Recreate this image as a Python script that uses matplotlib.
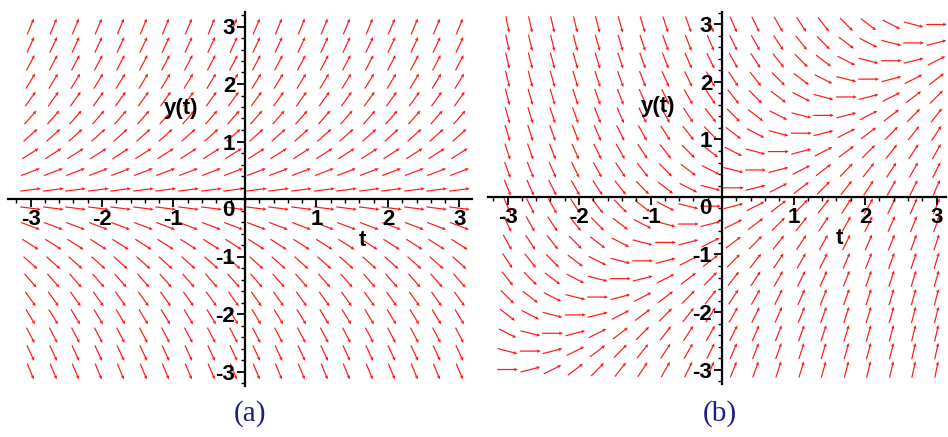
import numpy as np
import matplotlib.pyplot as plt
from matplotlib.ticker import MultipleLocator, FixedLocator

plt.rcParams['font.family'] = ['Liberation Sans', 'DejaVu Sans']
plt.rcParams['axes.unicode_minus'] = False

# grid of the direction field (20 x 20 points on -3..3)
T_GRID = [-3.0, -2.68, -2.37, -2.05, -1.74, -1.42, -1.11, -0.79, -0.47, -0.16,
          0.16, 0.47, 0.79, 1.11, 1.42, 1.74, 2.05, 2.37, 2.68, 3.0]
Y_GRID = [-3.0, -2.68, -2.37, -2.05, -1.74, -1.42, -1.11, -0.79, -0.47, -0.16,
          0.16, 0.47, 0.79, 1.11, 1.42, 1.74, 2.05, 2.37, 2.68, 3.0]
TICKS = [-3, -2, -1, 1, 2, 3]
PANEL_LABELS = ["(a)", "(b)"]


def slope_a(t, y):
  return y


def slope_b(t, y):
  return t - y


W, H = 948, 437
SX, SY = 71.5, 57.5          # pixels per unit
ARROW_LEN = 0.29


def make_axes(fig, ox, oy, x0, x1, y0, y1):
  ax = fig.add_axes([x0 / W, (H - y1) / H, (x1 - x0) / W, (y1 - y0) / H])
  ax.set_xlim((x0 - ox) / SX, (x1 - ox) / SX)
  ax.set_ylim((oy - y1) / SY, (oy - y0) / SY)
  return ax


def draw_field(ax, slope):
  T, Y = np.meshgrid(T_GRID, Y_GRID)
  theta = np.arctan(slope(T, Y))
  U = ARROW_LEN * np.cos(theta)
  V = ARROW_LEN * np.sin(theta)
  ax.quiver(T, Y, U, V, angles='xy', scale_units='xy', scale=1,
            pivot='middle', color='#ff1a1a', units='dots', width=1.2,
            headwidth=3, headlength=3.2, headaxislength=2.8, zorder=1)

  for side in ['top', 'right']:
    ax.spines[side].set_visible(False)
  for side in ['left', 'bottom']:
    ax.spines[side].set_position(('data', 0))
    ax.spines[side].set_linewidth(1.6)
    ax.spines[side].set_zorder(3)
  ax.xaxis.set_major_locator(FixedLocator(TICKS))
  ax.yaxis.set_major_locator(FixedLocator(TICKS))
  ax.xaxis.set_minor_locator(MultipleLocator(0.2))
  ax.yaxis.set_minor_locator(MultipleLocator(0.2))
  ax.tick_params(which='major', direction='out', length=6, width=1.3, pad=1,
                 labelsize=16)
  ax.tick_params(which='minor', direction='out', length=3, width=1)
  for lab in ax.get_xticklabels() + ax.get_yticklabels():
    lab.set_fontweight('bold')
  ax.text(-0.24, -0.2, "0", fontsize=16, fontweight='bold',
          ha='center', va='center')
  ax.text(-0.9, 1.58, "y(t)", fontsize=16, fontweight='bold',
          ha='center', va='center')
  ax.text(1.64, -0.72, "t", fontsize=16, fontweight='bold',
          ha='center', va='center')


fig = plt.figure(figsize=(W / 100, H / 100), dpi=100)
fig.patch.set_facecolor("white")

ax_a = make_axes(fig, 245, 199, 8, 472, 12, 386)
draw_field(ax_a, slope_a)
ax_b = make_axes(fig, 722, 197, 488, 946, 12, 384)
draw_field(ax_b, slope_b)

for label, xc in zip(PANEL_LABELS, [250, 720]):
  fig.text(xc / W, 1 - 414 / H, label, fontsize=21, color='#1c1c8a',
           family='Liberation Serif', ha='center', va='center')

plt.savefig("out.png", dpi=100)
